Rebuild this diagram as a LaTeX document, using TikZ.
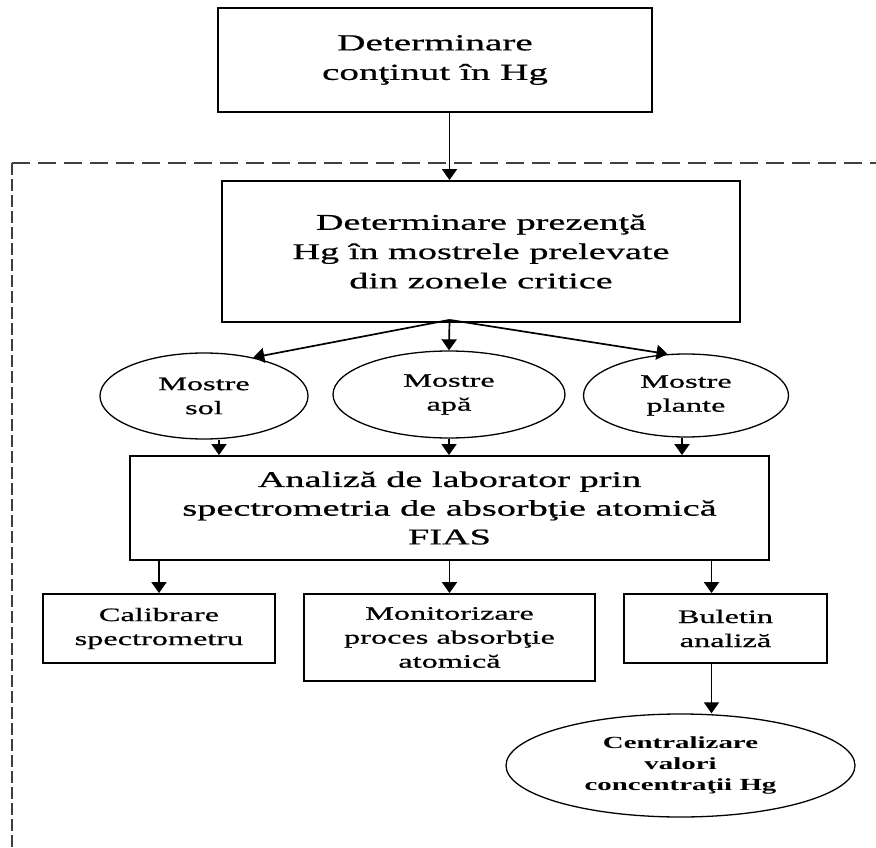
\documentclass[tikz,border=0pt]{standalone}
\usepackage{fontspec}
\setmainfont{Liberation Serif}[FakeStretch=1.7, UprightFeatures={FakeBold=0.7}]
\usetikzlibrary{shapes.geometric,arrows.meta,calc}
\begin{document}
\begin{tikzpicture}[x=1pt,y=-1pt,
  box/.style={draw,line width=1.8pt,inner sep=0pt,align=center},
  oval/.style={draw,ellipse,line width=1.3pt,inner sep=0pt,align=center},
  arr/.style={line width=1.7pt,-{Triangle[width=15pt,length=11pt]}},
  dashline/.style={draw=black!75,line width=2pt}]
\useasboundingbox (0,0) rectangle (876,848);
\fill[white] (0,0) rectangle (876,848);

% dashed frame (top and left sides)
\draw[dashline,dash pattern=on 18pt off 8pt] (12,163) -- (876,163);
\draw[dashline,line width=2.6pt,dash pattern=on 12pt off 4pt] (12,163) -- (12,848);

% nodes
\node[box,minimum width=434pt,minimum height=104pt,font=\fontsize{23}{29.5}\selectfont] (top) at (435,60) {Determinare\\conţinut în Hg};
\node[box,minimum width=518pt,minimum height=141pt,font=\fontsize{22.5}{29.3}\selectfont] (box2) at (481,251.5) {Determinare prezenţă\\Hg în mostrele prelevate\\din zonele critice};
\node[oval,minimum width=208pt,minimum height=86pt,font=\fontsize{19}{24}\selectfont] (e1) at (204,396) {Mostre\\sol};
\node[oval,minimum width=232pt,minimum height=87pt,font=\fontsize{19}{24}\selectfont] (e2) at (449,394.5) {Mostre\\apă};
\node[oval,minimum width=205pt,minimum height=83pt,font=\fontsize{19}{24}\selectfont] (e3) at (686,395.5) {Mostre\\plante};
\node[box,minimum width=639pt,minimum height=104pt,font=\fontsize{22.5}{28.7}\selectfont] (box3) at (449.5,508) {Analiză de laborator prin\\spectrometria de absorbţie atomică\\FIAS};
\node[box,minimum width=232pt,minimum height=69pt,font=\fontsize{19}{24}\selectfont] (box4) at (159,628.5) {Calibrare\\spectrometru};
\node[box,minimum width=291pt,minimum height=87pt,font=\fontsize{19}{24}\selectfont] (box5) at (449.5,637.5) {Monitorizare\\proces absorbţie\\atomică};
\node[box,minimum width=203pt,minimum height=69pt,font=\fontsize{19}{24}\selectfont] (box6) at (725.5,628.5) {Buletin\\analiză};
\node[oval,minimum width=349pt,minimum height=103pt,font=\bfseries\fontsize{17}{21}\selectfont] (fin) at (680.5,765.5) {Centralizare\\valori\\concentraţii Hg};

% connectors
\draw[arr] (top.south -| box3.north) -- (box2.north -| box3.north);
\coordinate (fan) at ($(box2.south -| box3.north)+(0,-3)$);
\draw[arr] (fan) -- (e1.38);
\draw[arr] (fan) -- (e2.north);
\draw[arr] (fan) -- (e3.114);

\coordinate (e1s) at ($(e1.south)+(15,0)$);
\coordinate (e3s) at ($(e3.south)+(-4,0)$);
\draw[arr] (e1s) -- (e1s |- box3.north);
\draw[arr] (e2.south) -- (e2.south |- box3.north);
\draw[arr] (e3s) -- (e3s |- box3.north);

\coordinate (b6n) at ($(box6.north)+(-14,0)$);
\draw[arr] (box4.north |- box3.south) -- (box4.north);
\draw[arr] (box5.north |- box3.south) -- (box5.north);
\draw[arr] (b6n |- box3.south) -- (b6n);

\coordinate (b6s) at ($(box6.south)+(-14,0)$);
\draw[arr] (b6s) -- (b6s |- fin.north);
\end{tikzpicture}
\end{document}
